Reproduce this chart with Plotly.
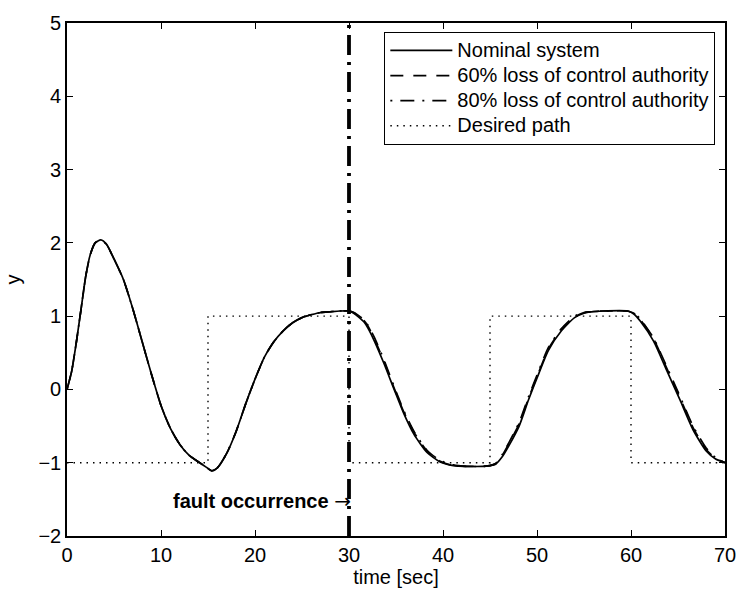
import plotly.graph_objects as go

# ---- data -------------------------------------------------------------
# response before the fault (identical for all three cases)
t_pre = [0.0, 0.5, 1.0, 1.5, 2.0, 2.5, 3.0, 3.6, 4.2, 5.0, 6.0, 7.0, 8.0, 9.0,
         10.0, 11.0, 12.0, 13.0, 14.0, 14.8, 15.4, 16.0, 17.0, 18.0, 19.0,
         20.0, 21.0, 22.0, 23.0, 24.0, 25.0, 26.0, 27.0, 28.0, 29.0]
y_pre = [0.0, 0.25, 0.65, 1.10, 1.55, 1.85, 2.00, 2.04, 1.98, 1.78, 1.50,
         1.10, 0.65, 0.20, -0.22, -0.53, -0.75, -0.90, -0.99, -1.06, -1.11,
         -1.07, -0.87, -0.57, -0.20, 0.14, 0.44, 0.65, 0.80, 0.91, 0.98,
         1.02, 1.05, 1.06, 1.07]

# response after the fault
t_post = [30.0, 30.5, 31.0, 31.6, 32.0, 32.7, 33.7, 34.8, 35.8, 36.9, 38.3,
          39.7, 41.1, 42.5, 44.2, 45.0, 45.6, 46.3, 47.0, 48.1, 49.1, 50.2,
          51.2, 52.6, 54.0, 55.0, 55.8, 57.0, 59.6, 60.3, 61.0, 62.4, 63.8,
          65.2, 66.6, 68.0, 69.0, 70.0]
nominal_post = [1.07, 1.04, 0.99, 0.92, 0.84, 0.66, 0.36, 0.00, -0.32, -0.61,
                -0.86, -0.99, -1.04, -1.05, -1.05, -1.04, -1.02, -0.92, -0.77,
                -0.50, -0.14, 0.22, 0.53, 0.80, 0.98, 1.04, 1.06, 1.07, 1.07,
                1.03, 0.93, 0.66, 0.26, -0.14, -0.55, -0.84, -0.95, -1.00]
loss60_post = [1.07, 1.05, 1.00, 0.94, 0.87, 0.69, 0.39, 0.02, -0.30, -0.58,
               -0.84, -0.98, -1.04, -1.05, -1.05, -1.04, -1.01, -0.90, -0.74,
               -0.47, -0.12, 0.24, 0.55, 0.82, 0.99, 1.05, 1.06, 1.07, 1.07,
               1.04, 0.95, 0.69, 0.29, -0.11, -0.52, -0.82, -0.94, -1.00]
loss80_post = [1.07, 1.05, 1.01, 0.95, 0.88, 0.71, 0.41, 0.04, -0.28, -0.57,
               -0.83, -0.97, -1.03, -1.05, -1.05, -1.04, -1.01, -0.89, -0.73,
               -0.45, -0.10, 0.26, 0.57, 0.83, 1.00, 1.05, 1.06, 1.07, 1.07,
               1.04, 0.96, 0.70, 0.31, -0.09, -0.50, -0.80, -0.93, -1.00]

# desired square-wave path (value holds until next switch time)
desired_t = [0, 15, 30, 45, 60, 70]
desired_y = [-1, 1, -1, 1, -1, -1]

fault_time = 30
y_limits = [-2, 5]

series_names = ["Nominal system", "60% loss of control authority",
                "80% loss of control authority", "Desired path"]

time = t_pre + t_post
nominal = y_pre + nominal_post
loss60 = y_pre + loss60_post
loss80 = y_pre + loss80_post

# ---- figure -----------------------------------------------------------
FONT = "Liberation Sans, Arial, sans-serif"
FS = 20


def legend_label(text):
    # full-size label text on a tighter legend row pitch
    return f"<span style='font-size:{FS}px'>{text}</span>"


fig = go.Figure()

fig.add_trace(go.Scatter(x=time, y=nominal, mode="lines",
                         name=legend_label(series_names[0]),
                         line=dict(color="black", width=1.7, shape="spline",
                                   smoothing=0.6)))
fig.add_trace(go.Scatter(x=time, y=loss60, mode="lines",
                         name=legend_label(series_names[1]),
                         line=dict(color="black", width=1.7, dash="13px,10px",
                                   shape="spline", smoothing=0.6)))
fig.add_trace(go.Scatter(x=time, y=loss80, mode="lines",
                         name=legend_label(series_names[2]),
                         line=dict(color="black", width=1.7,
                                   dash="2px,8px,14px,8px",
                                   shape="spline", smoothing=0.6)))
fig.add_trace(go.Scatter(x=desired_t, y=desired_y, mode="lines",
                         name=legend_label(series_names[3]),
                         line=dict(color="black", width=1.4, dash="1.5px,5px",
                                   shape="hv")))

# fault instant marker
fig.add_trace(go.Scatter(x=[fault_time, fault_time], y=y_limits, mode="lines",
                         showlegend=False, hoverinfo="skip",
                         line=dict(color="black", width=3.8,
                                   dash="20px,7px,3px,7px")))

fig.add_annotation(x=fault_time, y=-1.52, xref="x", yref="y",
                   text=("<b>fault occurrence</b> "
                         "<span style='font-family:DejaVu Sans'>→</span>"),
                   showarrow=False, xanchor="right", yanchor="middle",
                   xshift=4,
                   font=dict(family=FONT, size=FS, color="black"))

axis_common = dict(showline=True, linecolor="black", linewidth=1.6,
                   mirror="allticks", ticks="inside", ticklen=6,
                   tickcolor="black", tickwidth=1.2, showgrid=False,
                   zeroline=False,
                   tickfont=dict(family=FONT, size=FS, color="black"))

fig.update_xaxes(range=[0, 70], dtick=10,
                 title=dict(text="time [sec]", standoff=0,
                            font=dict(family=FONT, size=FS, color="black")),
                 **axis_common)
fig.update_yaxes(range=y_limits, dtick=1,
                 title=dict(text="y", standoff=12,
                            font=dict(family=FONT, size=FS, color="black")),
                 **axis_common)

fig.update_layout(
    width=748, height=595,
    margin=dict(l=66, r=16, t=14, b=59),
    paper_bgcolor="white", plot_bgcolor="white",
    showlegend=True,
    legend=dict(x=0.985, y=0.983, xanchor="right", yanchor="top",
                bgcolor="white", bordercolor="black", borderwidth=1.2,
                itemwidth=62, tracegroupgap=0,
                font=dict(family=FONT, size=17, color="black")),
)

fig.write_html("out.html")
